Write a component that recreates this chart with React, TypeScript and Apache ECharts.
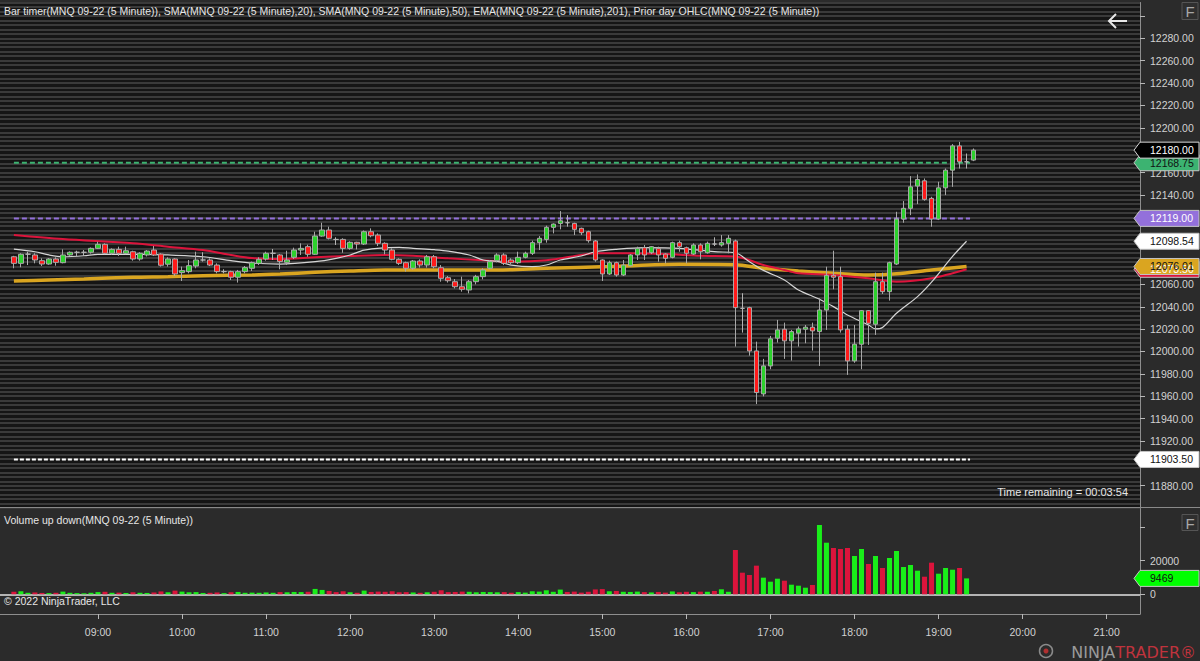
import React, { useEffect, useRef } from 'react';
import * as echarts from 'echarts';

// ---------- data ----------
const FIRST_BAR_MINUTES = 8 * 60; // 08:00
const BAR_MINUTES = 5;

const OPEN = [
  12084.7, 12078.8, 12087, 12086.3, 12081.2, 12078.2, 12082.7, 12079.4, 12086.3, 12088.7,
  12088.7, 12088.7, 12092.2, 12095.8, 12087.8, 12091.3, 12087.8, 12089.2, 12082.7, 12086.3,
  12090.7, 12087.1, 12078, 12082.7, 12070.5, 12071.4, 12076.4, 12081.8, 12081.8, 12077.3,
  12071.4, 12071.4, 12066.4, 12071.4, 12074.4, 12078.8, 12082.7, 12087.8, 12086.3, 12079.7,
  12084.2, 12090.7, 12093.7, 12086.9, 12103.2, 12108.6, 12100.2, 12100.2, 12092.2, 12097.6,
  12096.1, 12107.1, 12104.1, 12096.7, 12090.7, 12082.4, 12079.4, 12074.4, 12080.9, 12077.3,
  12084.7, 12074.9, 12066, 12062.4, 12057.9, 12055, 12062.4, 12066.9, 12074.4, 12081.2,
  12086.3, 12081.8, 12079.4, 12084.2, 12087.8, 12097.3, 12100.2, 12111, 12114.5, 12115.1,
  12114.5, 12110.1, 12107.1, 12098.8, 12081.8, 12069.3, 12079.4, 12068.4, 12076.7, 12086.3,
  12092.8, 12088.3, 12092.2, 12087.1, 12084.2, 12097.3, 12092.8, 12087.1, 12095.2, 12088.3,
  12096.1, 12095.2, 12096.7, 12098.8, 12038.6, 12039.2, 12000.5, 11962.1, 11987.1, 12011.9,
  12019.9, 12009.5, 12016.4, 12019.9, 12021.7, 12017.8, 12037.1, 12068.1, 12066.9, 12019.9,
  11991.6, 12006.5, 12036.5, 12024.4, 12062.4, 12053.5, 12078.2, 12118.4, 12128, 12147.9,
  12152.6, 12136.9, 12118.4, 12146.3, 12162.1, 12183.8, 12169.6, 12171.1,
];
const CLOSE = [
  12078.8, 12086.9, 12087, 12081.8, 12078.2, 12082.7, 12079.7, 12086.3, 12088.7, 12088.7,
  12088.7, 12092.2, 12095.8, 12087.8, 12091.3, 12087.8, 12090.1, 12082.7, 12087.8, 12089.8,
  12086.3, 12077.1, 12082.7, 12069.3, 12072.3, 12076.7, 12081.8, 12081.8, 12077.3, 12071.4,
  12071.4, 12066.4, 12071.4, 12075, 12079.4, 12082.4, 12087.8, 12087.8, 12080.4, 12081.8,
  12090.7, 12092.2, 12086.9, 12103.2, 12108.6, 12101.2, 12100.2, 12092.2, 12097.6, 12096.1,
  12107.1, 12103.5, 12096.7, 12090.7, 12082.4, 12078.8, 12074.4, 12080.9, 12077.3, 12084.7,
  12075.8, 12065.4, 12063.3, 12057.9, 12055.6, 12062.4, 12066.9, 12072.9, 12080.3, 12086.3,
  12078.8, 12079.4, 12084.2, 12087.8, 12097.3, 12101.2, 12111, 12113.9, 12116.9, 12115.1,
  12109.2, 12106.2, 12099.1, 12081.8, 12069.3, 12079.4, 12068.4, 12077.3, 12086.3, 12092.2,
  12086.3, 12093.7, 12086.3, 12083.3, 12097.3, 12093.7, 12087.8, 12095.2, 12089.2, 12096.7,
  12096.1, 12097.3, 12101.2, 12039.2, 12038.6, 12000.5, 11963.3, 11987.1, 12011.3, 12019.3,
  12009.5, 12017.8, 12020.2, 12021.7, 12018.4, 12037.1, 12068.1, 12066.4, 12019.3, 11991.6,
  12006.5, 12036.5, 12025.2, 12062.4, 12053.5, 12079.4, 12118.4, 12128, 12147.2, 12153.8,
  12136, 12118.4, 12146.3, 12162.1, 12183.8, 12169.6, 12169.6, 12180,
];
const LOW = [
  12074.4, 12075.3, 12077.3, 12078.8, 12076.4, 12077.5, 12076.7, 12078.8, 12085.5, 12085.4,
  12085.4, 12087.5, 12091.6, 12087, 12086.5, 12085.4, 12087, 12081.2, 12081.2, 12085,
  12085.4, 12075.9, 12075.9, 12067.5, 12063, 12069.9, 12074.4, 12080.4, 12076.4, 12069.9,
  12069.9, 12063.9, 12061.6, 12069.9, 12072, 12077.3, 12081.2, 12081.8, 12073.5, 12077.3,
  12082.7, 12086.3, 12084.7, 12086.3, 12102.6, 12100.2, 12095.2, 12088.3, 12091, 12091.3,
  12095.2, 12102.1, 12094.3, 12086.9, 12081.5, 12077.3, 12071.4, 12073, 12075, 12075,
  12074.4, 12062.4, 12061.6, 12056.4, 12053.5, 12052, 12060, 12064.5, 12073.5, 12079.7,
  12077.3, 12078.2, 12078.2, 12083.3, 12086.3, 12090.7, 12097.3, 12105.6, 12109.2, 12111.6,
  12104.1, 12104.1, 12097.3, 12080.3, 12063, 12068.4, 12066.9, 12067.5, 12075.9, 12081.8,
  12081.8, 12087.1, 12080.3, 12078.8, 12083.3, 12089.2, 12078.8, 12086.3, 12082.4, 12087.5,
  12094.3, 12093.7, 12087.8, 12004.4, 12016.9, 11996.3, 11953, 11959.9, 11984.2, 12008,
  11993.4, 11991.9, 12004.4, 12007.4, 12000.8, 11987.1, 12019.3, 12055.6, 12016.9, 11979.1,
  11989.9, 11984.2, 12005.9, 12014.8, 12051.4, 12045.5, 12077.3, 12115.1, 12121.9, 12131.8,
  12134.8, 12111.6, 12117.5, 12139.8, 12147.2, 12163.6, 12163.6, 12170.2,
];
const HIGH = [
  12085.5, 12087.8, 12089.2, 12087.8, 12083.3, 12083.5, 12084.2, 12091.3, 12089.5, 12090.1,
  12090.7, 12093, 12098.1, 12096.7, 12092.2, 12093.7, 12093.7, 12090.1, 12088.7, 12090.7,
  12094.3, 12087.8, 12084.2, 12083.3, 12075.9, 12081.8, 12089.2, 12088.7, 12083.3, 12078.8,
  12073.5, 12072.2, 12072.9, 12076.4, 12080.4, 12084.2, 12089.2, 12091.6, 12087.1, 12090.1,
  12092.8, 12096.7, 12095.5, 12107.1, 12115.1, 12111.6, 12102.1, 12101.2, 12098.5, 12098.1,
  12108.2, 12110.1, 12105.6, 12097.6, 12092.2, 12083.3, 12080.3, 12081.8, 12082.4, 12086.3,
  12086.3, 12077.3, 12067.5, 12064.8, 12066.9, 12063.9, 12068.5, 12074.4, 12081.8, 12087.8,
  12087.8, 12083.3, 12089.2, 12089.2, 12099.1, 12103.2, 12112.5, 12114.5, 12125.5, 12121.9,
  12115.1, 12110.7, 12108, 12099.7, 12082.4, 12081.2, 12080.3, 12081.8, 12087.1, 12093.7,
  12095.2, 12094.3, 12093.7, 12087.8, 12098.2, 12099.1, 12093.7, 12096.7, 12096.7, 12098.2,
  12102.1, 12104.1, 12104.1, 12100, 12052.1, 12040, 12008.8, 11993.4, 12013.9, 12028.2,
  12025.8, 12019.3, 12022.3, 12023.7, 12025.8, 12047.6, 12075.8, 12090.1, 12075.8, 12023.7,
  12023.7, 12037.1, 12037.1, 12070.5, 12070.5, 12080.3, 12124.9, 12134.5, 12156.8, 12158.3,
  12154.7, 12138.3, 12151.7, 12163.6, 12185.4, 12187.4, 12177, 12181.5,
];
// volume of the closed bars (the forming bar has none)
const VOLUME = [
  1500, 1800, 900, 1100, 800, 700, 900, 1600, 900, 700,
  600, 900, 1300, 1500, 900, 1000, 800, 1200, 900, 800,
  1100, 1700, 1200, 2200, 1600, 1200, 1300, 800, 900, 1100,
  700, 1200, 1400, 900, 1000, 900, 1100, 900, 1300, 1200,
  1400, 1300, 1500, 3200, 2600, 2000, 1300, 1800, 1200, 900,
  2200, 1400, 1600, 1500, 1800, 1200, 1300, 1100, 900, 1200,
  1500, 2400, 1300, 1400, 1600, 1500, 1200, 1400, 1300, 1200,
  1300, 900, 1300, 1000, 1800, 1600, 2400, 1500, 2800, 1400,
  1600, 1000, 1500, 2900, 3100, 1800, 2000, 1500, 1400, 1600,
  1300, 1100, 1400, 1000, 1700, 1200, 1500, 1300, 1550, 1500,
  2000, 2980, 1500, 26370, 12860, 11490, 17040, 9900, 7500, 9290,
  8100, 5710, 5120, 3930, 5530, 41250, 30710, 27560, 26960, 27560,
  22800, 26960, 18040, 22800, 15650, 21600, 25770, 16250, 17440, 14050,
  10480, 18810, 12260, 15650, 14640, 15650, 9469,
];
// indicator readings: [bar index, value]
const SMA20 = [
  [0, 12091.6], [3, 12089.2], [5, 12086.3], [7, 12084.7], [10, 12085.6], [12, 12086.9],
  [19, 12086.9], [22, 12086.3], [27, 12084.7], [31, 12081.2], [34, 12079.0], [38, 12078.2],
  [43, 12080.3], [46, 12083.3], [48, 12086.3], [50, 12090.7], [53, 12092.8], [55, 12093.1],
  [57, 12092.2], [60, 12091.0], [62, 12089.8], [65, 12086.3], [67, 12081.8], [69, 12080.5],
  [71, 12077.3], [74, 12075.9], [76, 12077.3], [78, 12081.8], [81, 12085.4], [83, 12089.2],
  [86, 12091.3], [90, 12092.8], [95, 12092.2], [100, 12089.2], [103, 12088.3], [105, 12080.3],
  [107, 12072.5], [110, 12063.9], [112, 12055.0], [115, 12046.7], [117, 12040.1], [119, 12032.7],
  [122, 12023.7], [123, 12020.2], [124, 12021.5], [126, 12034.2], [129, 12049.1], [131, 12062.0],
  [134, 12085.0], [136, 12098.54],
];
const SMA50 = [
  [0, 12104.1], [7, 12100.5], [17, 12096.7], [22, 12093.7], [27, 12090.7], [31, 12086.3],
  [34, 12083.5], [38, 12082.7], [43, 12084.2], [48, 12085.4], [53, 12086.3], [57, 12085.6],
  [62, 12083.3], [67, 12081.5], [71, 12080.3], [76, 12081.5], [81, 12086.3], [83, 12087.8],
  [88, 12087.8], [93, 12087.1], [98, 12085.6], [103, 12085.0], [107, 12077.3], [110, 12072.9],
  [112, 12069.9], [117, 12068.4], [122, 12065.4], [126, 12062.4], [131, 12065.4], [136, 12073.5],
];
const EMA201 = [
  [0, 12063.0], [5, 12063.9], [10, 12064.8], [17, 12066.4], [22, 12066.9], [27, 12067.8],
  [34, 12068.4], [38, 12069.3], [43, 12070.8], [48, 12072.0], [53, 12072.9], [69, 12072.9],
  [76, 12074.4], [85, 12075.9], [95, 12077.9], [103, 12077.5], [107, 12074.4], [112, 12072.0],
  [117, 12069.9], [122, 12068.4], [126, 12069.5], [131, 12072.9], [136, 12076.01],
];
const PRIOR_DAY_LEVELS = [12168.75, 12119.0, 11903.5];
const TIME_TICKS = ['09:00', '10:00', '11:00', '12:00', '13:00', '14:00', '15:00', '16:00', '17:00', '18:00', '19:00', '20:00', '21:00'];
const PRICE_LABEL_RANGE = [11880, 12280];
const VOLUME_TICKS = [0, 20000, 40000];
const VOLUME_LABELS = [0, 20000];
const TIME_REMAINING = '00:03:54';
const HEADER = 'Bar timer(MNQ 09-22 (5 Minute)), SMA(MNQ 09-22 (5 Minute),20), SMA(MNQ 09-22 (5 Minute),50), EMA(MNQ 09-22 (5 Minute),201), Prior day OHLC(MNQ 09-22 (5 Minute))';
const VOLUME_HEADER = 'Volume up down(MNQ 09-22 (5 Minute))';

// ---------- style / layout ----------
const FONT = '"Liberation Sans", Arial, sans-serif';
const LABEL = '#d2d2d2';
const AXIS = '#8e8e8e';
const STRIPE = '#3a3a3a';
const UP = '#2dd12d';
const DOWN = '#ff1a1a';
const VOL_UP = '#19ee19';
const VOL_DOWN = '#dc143c';
const X_MIN = -1.984;
const X_MAX = 160.76;

const toIdx = (t: string) => {
  const [h, m] = t.split(':').map(Number);
  return (h * 60 + m - FIRST_BAR_MINUTES) / BAR_MINUTES;
};
const idxToTime = (i: number) => {
  const mins = FIRST_BAR_MINUTES + Math.round(i) * BAR_MINUTES;
  const h = Math.floor(mins / 60);
  const m = mins % 60;
  return `${String(h).padStart(2, '0')}:${String(m).padStart(2, '0')}`;
};

function buildOption() {
  const candleData = OPEN.map((o, i) => {
    const item: any = { value: [i, o, CLOSE[i], LOW[i], HIGH[i]] };
    if (o === CLOSE[i]) {
      item.itemStyle = { color: '#c8c8c8', color0: '#c8c8c8', borderColor: '#b4b4b4', borderColor0: '#b4b4b4' };
    }
    return item;
  });
  const volData = VOLUME.map((v, i) => {
    const up = CLOSE[i] > OPEN[i] || (CLOSE[i] === OPEN[i] && (i === 0 || CLOSE[i] >= CLOSE[i - 1]));
    return { value: [i, v], itemStyle: { color: up ? VOL_UP : VOL_DOWN } };
  });
  const lastClosedIdx = VOLUME.length - 1 + 0.5;
  const priorColors = ['#3cb371', '#9370db', '#ffffff'];
  const priorDash = [[5, 3], [5, 3], [4, 2]];
  const priorSeries = PRIOR_DAY_LEVELS.map((v, k) => ({
    type: 'line',
    xAxisIndex: 0,
    yAxisIndex: 0,
    data: [[0, v], [lastClosedIdx, v]],
    symbol: 'none',
    silent: true,
    z: 2,
    lineStyle: { color: priorColors[k], width: 2, type: priorDash[k] },
  }));
  const hourIdx = TIME_TICKS.map(toIdx);

  return {
    animation: false,
    backgroundColor: '#2b2b2b',
    textStyle: { fontFamily: FONT },
    grid: [
      { left: 0, width: 1140, top: 2.5, height: 505.6, show: true, backgroundColor: '#151515', borderWidth: 0 },
      { left: 0, width: 1140, top: 508.5, height: 105.5, show: false },
    ],
    xAxis: [
      { type: 'value', gridIndex: 0, min: X_MIN, max: X_MAX, show: false, splitLine: { show: false } },
      {
        type: 'value',
        gridIndex: 1,
        min: X_MIN,
        max: X_MAX,
        position: 'bottom',
        axisLine: { show: true, onZero: false, lineStyle: { color: AXIS, width: 1 } },
        axisTick: { show: true, customValues: hourIdx, length: 5, lineStyle: { color: '#b8b8b8' } },
        axisLabel: {
          customValues: hourIdx,
          formatter: (v: number) => idxToTime(v),
          color: LABEL,
          fontSize: 10.5,
          fontFamily: FONT,
          margin: 12,
        },
        splitLine: { show: false },
      },
    ],
    yAxis: [
      {
        type: 'value',
        gridIndex: 0,
        position: 'right',
        min: 11860,
        max: 12312,
        interval: 20,
        axisLine: { show: true, onZero: false, lineStyle: { color: AXIS, width: 1 } },
        axisTick: { show: true, length: 5, lineStyle: { color: '#b8b8b8' } },
        axisLabel: {
          formatter: (v: number) =>
            v % 20 === 0 && v >= PRICE_LABEL_RANGE[0] && v <= PRICE_LABEL_RANGE[1] ? v.toFixed(2) : '',
          color: LABEL,
          fontSize: 10.5,
          fontFamily: FONT,
          margin: 10,
          showMinLabel: false,
          showMaxLabel: false,
        },
        splitLine: { show: true, lineStyle: { color: STRIPE, width: 2 } },
        minorTick: { show: false, splitNumber: 5 },
        minorSplitLine: { show: true, lineStyle: { color: STRIPE, width: 2 } },
      },
      {
        type: 'value',
        gridIndex: 1,
        position: 'right',
        min: -11725,
        max: 51068,
        axisLine: { show: true, onZero: false, lineStyle: { color: AXIS, width: 1 } },
        axisTick: { show: true, customValues: VOLUME_TICKS, length: 5, lineStyle: { color: '#b8b8b8' } },
        axisLabel: {
          customValues: VOLUME_LABELS,
          formatter: (v: number) => String(v),
          color: LABEL,
          fontSize: 10.5,
          fontFamily: FONT,
          margin: 10,
        },
        splitLine: { show: false },
      },
    ],
    series: [
      ...priorSeries,
      {
        type: 'line', xAxisIndex: 0, yAxisIndex: 0, data: EMA201, symbol: 'none', smooth: 0.3, silent: true, z: 3,
        lineStyle: { color: '#daa520', width: 3.5 },
      },
      {
        type: 'line', xAxisIndex: 0, yAxisIndex: 0, data: SMA50, symbol: 'none', smooth: 0.3, silent: true, z: 4,
        lineStyle: { color: '#dc143c', width: 2 },
      },
      {
        type: 'line', xAxisIndex: 0, yAxisIndex: 0, data: SMA20, symbol: 'none', smooth: 0.3, silent: true, z: 5,
        lineStyle: { color: '#d6d6d6', width: 1.2 },
      },
      {
        type: 'candlestick',
        xAxisIndex: 0,
        yAxisIndex: 0,
        data: candleData,
        barWidth: 5,
        z: 10,
        silent: true,
        itemStyle: { color: UP, color0: DOWN, borderColor: '#a8a8a8', borderColor0: '#a8a8a8', borderWidth: 1 },
      },
      {
        type: 'bar',
        xAxisIndex: 1,
        yAxisIndex: 1,
        data: volData,
        barWidth: 5,
        silent: true,
        z: 5,
        markLine: {
          silent: true,
          symbol: ['none', 'none'],
          label: { show: false },
          lineStyle: { color: '#b4b4b4', width: 2, type: 'solid' },
          data: [{ yAxis: 0 }],
          z: 4,
        },
      },
    ],
  };
}

function tag(y: number, text: string, fill: string, textColor: string, stroke = '#c4c4c4') {
  return [
    {
      type: 'polygon',
      z: 100,
      shape: { points: [[1134, y], [1140, y - 8], [1199, y - 8], [1199, y + 8], [1140, y + 8]] },
      style: { fill, stroke, lineWidth: 1 },
    },
    {
      type: 'text',
      z: 101,
      x: 1150,
      y,
      style: { text, fill: textColor, fontSize: 10.5, fontFamily: FONT, verticalAlign: 'middle', align: 'left' },
    },
  ];
}

function buildGraphics(py: (v: number) => number, vy: (v: number) => number) {
  const lastClose = CLOSE[CLOSE.length - 1];
  const sma20Last = SMA20[SMA20.length - 1][1];
  const sma50Last = SMA50[SMA50.length - 1][1];
  const emaLast = EMA201[EMA201.length - 1][1];
  const volLast = VOLUME[VOLUME.length - 1];
  const t = (x: number, y: number, text: string, extra: any = {}) => ({
    type: 'text',
    z: 70,
    x,
    y,
    style: { text, fill: '#e6e6e6', fontSize: 11, fontFamily: FONT, verticalAlign: 'middle', align: 'left', ...extra },
  });
  return [
    t(4, 11, HEADER, { fontSize: 10.5 }),
    t(4, 520, VOLUME_HEADER, { fontSize: 10.5 }),
    t(4, 601, '© 2022 NinjaTrader, LLC', { fontSize: 10.5 }),
    t(1128, 492, `Time remaining = ${TIME_REMAINING}`, { align: 'right' }),
    // divider between panels
    { type: 'line', z: 60, shape: { x1: 0, y1: 507.5, x2: 1200, y2: 507.5 }, style: { stroke: '#8a8a8a', lineWidth: 1 } },
    // F buttons
    { type: 'rect', z: 60, shape: { x: 1182, y: 2.5, width: 16, height: 17 }, style: { fill: '#2f2f2f', stroke: '#555555', lineWidth: 1 } },
    t(1190, 11.5, 'F', { align: 'center', fill: '#a8a8a8', fontSize: 15 }),
    { type: 'rect', z: 60, shape: { x: 1182, y: 514.5, width: 16, height: 16 }, style: { fill: '#2f2f2f', stroke: '#555555', lineWidth: 1 } },
    t(1190, 523, 'F', { align: 'center', fill: '#a8a8a8', fontSize: 15 }),
    // back arrow
    { type: 'polyline', z: 60, shape: { points: [[1127, 21], [1109, 21]] }, style: { stroke: '#e8e8e8', lineWidth: 2, fill: 'none' } },
    { type: 'polyline', z: 60, shape: { points: [[1116, 14], [1109, 21], [1116, 28]] }, style: { stroke: '#e8e8e8', lineWidth: 2, fill: 'none' } },
    // logo
    { type: 'circle', z: 60, shape: { cx: 1046, cy: 651, r: 6.5 }, style: { fill: 'none', stroke: '#8a8a8a', lineWidth: 1.5 } },
    { type: 'circle', z: 60, shape: { cx: 1046, cy: 651, r: 2.5 }, style: { fill: '#b03030' } },
    {
      type: 'text',
      z: 70,
      x: 1196,
      y: 652,
      style: {
        text: '{a|NINJA}{b|TRADER®}',
        align: 'right',
        verticalAlign: 'middle',
        rich: {
          a: { fill: '#9a9a9a', color: '#9a9a9a', fontSize: 16, fontFamily: '"DejaVu Sans", sans-serif' },
          b: { fill: '#c0333d', color: '#c0333d', fontSize: 16, fontFamily: '"DejaVu Sans", sans-serif' },
        },
      },
    },
    // price tags
    ...tag(py(PRIOR_DAY_LEVELS[0]), PRIOR_DAY_LEVELS[0].toFixed(2), '#3cb371', '#111111'),
    ...tag(py(lastClose), lastClose.toFixed(2), '#000000', '#ffffff', '#d8d8d8'),
    ...tag(py(PRIOR_DAY_LEVELS[1]), PRIOR_DAY_LEVELS[1].toFixed(2), '#9370db', '#ffffff'),
    ...tag(py(sma20Last), sma20Last.toFixed(2), '#ffffff', '#111111'),
    ...tag(py(sma50Last), sma50Last.toFixed(2), '#dc143c', '#ffffff'),
    ...tag(py(emaLast), emaLast.toFixed(2), '#daa520', '#111111'),
    ...tag(py(PRIOR_DAY_LEVELS[2]), PRIOR_DAY_LEVELS[2].toFixed(2), '#ffffff', '#111111'),
    ...tag(vy(volLast), String(volLast), '#00ff00', '#111111'),
  ];
}

export default function App() {
  const ref = useRef<HTMLDivElement>(null);
  useEffect(() => {
    document.body.style.margin = '0';
    const chart = echarts.init(ref.current as HTMLDivElement, null, { renderer: 'svg' });
    chart.setOption(buildOption() as any);
    const py = (v: number) => chart.convertToPixel({ yAxisIndex: 0 }, v) as unknown as number;
    const vy = (v: number) => chart.convertToPixel({ yAxisIndex: 1 }, v) as unknown as number;
    chart.setOption({ graphic: { elements: buildGraphics(py, vy) } } as any);
    return () => chart.dispose();
  }, []);
  return <div ref={ref} style={{ width: 1200, height: 661, background: '#2b2b2b' }} />;
}
